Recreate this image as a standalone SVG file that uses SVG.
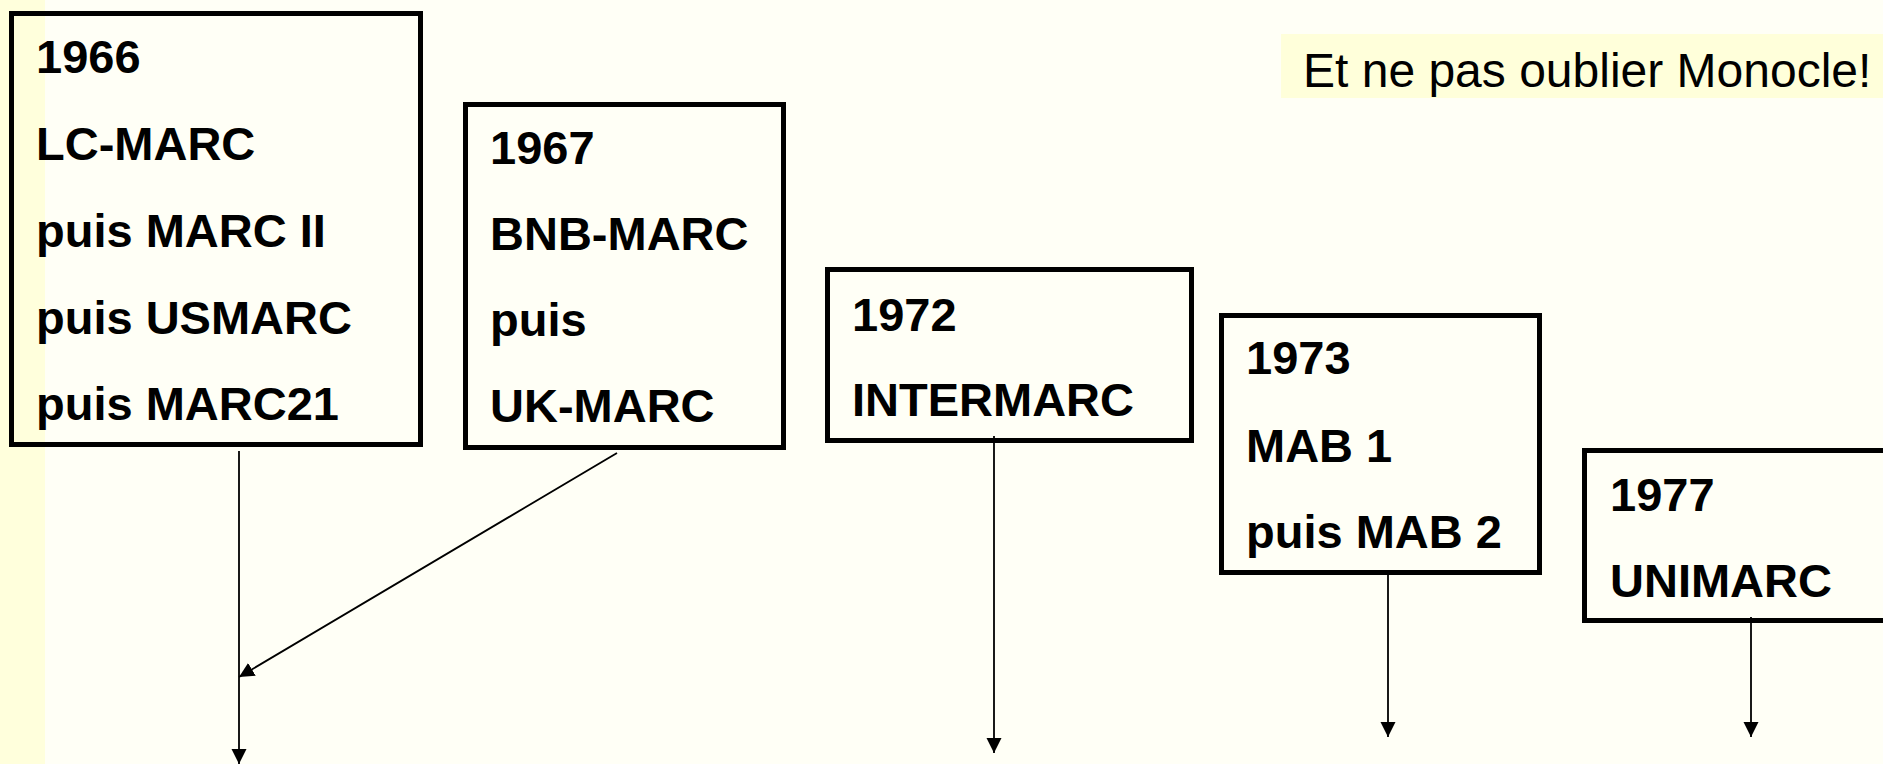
<svg xmlns="http://www.w3.org/2000/svg" width="1883" height="764" viewBox="0 0 1883 764">
  <style>
    .box { fill: none; stroke: #000; stroke-width: 5; }
    .t { font-family: "Liberation Sans", Arial, sans-serif; font-weight: bold; font-size: 47px; fill: #000; }
    .note { font-family: "Liberation Sans", Arial, sans-serif; font-size: 48px; fill: #000; }
    .conn { stroke: #000; stroke-width: 1.8; fill: none; marker-end: url(#arr); }
  </style>
  <defs>
    <marker id="arr" markerUnits="userSpaceOnUse" markerWidth="16" markerHeight="16" refX="15" refY="7.5" orient="auto">
      <path d="M0,0 L15,7.5 L0,15 z" fill="#000"/>
    </marker>
  </defs>
  <rect x="0" y="0" width="1883" height="764" fill="#FFFFF6"/>
  <rect x="0" y="0" width="45" height="764" fill="#FFFFDC"/>

  <g id="note">
    <rect x="1281" y="34" width="602" height="64" fill="#FFFFDA"/>
    <text class="note" x="1303" y="87">Et ne pas oublier Monocle!</text>
  </g>

  <g id="n1966">
    <rect class="box" x="11.5" y="13.5" width="409" height="431"/>
    <text class="t" x="36" y="73">1966</text>
    <text class="t" x="36" y="160">LC-MARC</text>
    <text class="t" x="36" y="247">puis MARC II</text>
    <text class="t" x="36" y="334">puis USMARC</text>
    <text class="t" x="36" y="420">puis MARC21</text>
  </g>

  <g id="n1967">
    <rect class="box" x="465.5" y="104.5" width="318" height="343"/>
    <text class="t" x="490" y="164">1967</text>
    <text class="t" x="490" y="250">BNB-MARC</text>
    <text class="t" x="490" y="336">puis</text>
    <text class="t" x="490" y="422">UK-MARC</text>
  </g>

  <g id="n1972">
    <rect class="box" x="827.5" y="269.5" width="364" height="171"/>
    <text class="t" x="852" y="331">1972</text>
    <text class="t" x="852" y="416">INTERMARC</text>
  </g>

  <g id="n1973">
    <rect class="box" x="1221.5" y="315.5" width="318" height="257"/>
    <text class="t" x="1246" y="374">1973</text>
    <text class="t" x="1246" y="462">MAB 1</text>
    <text class="t" x="1246" y="548">puis MAB 2</text>
  </g>

  <g id="n1977">
    <rect class="box" x="1584.5" y="450.5" width="400" height="170"/>
    <text class="t" x="1610" y="511">1977</text>
    <text class="t" x="1610" y="597">UNIMARC</text>
  </g>

  <g id="connectors">
    <line class="conn" x1="239" y1="451" x2="239" y2="764"/>
    <line class="conn" x1="617" y1="453" x2="239" y2="677"/>
    <line class="conn" x1="994" y1="436" x2="994" y2="753"/>
    <line class="conn" x1="1388" y1="573" x2="1388" y2="737"/>
    <line class="conn" x1="1751" y1="617" x2="1751" y2="737"/>
  </g>
</svg>
